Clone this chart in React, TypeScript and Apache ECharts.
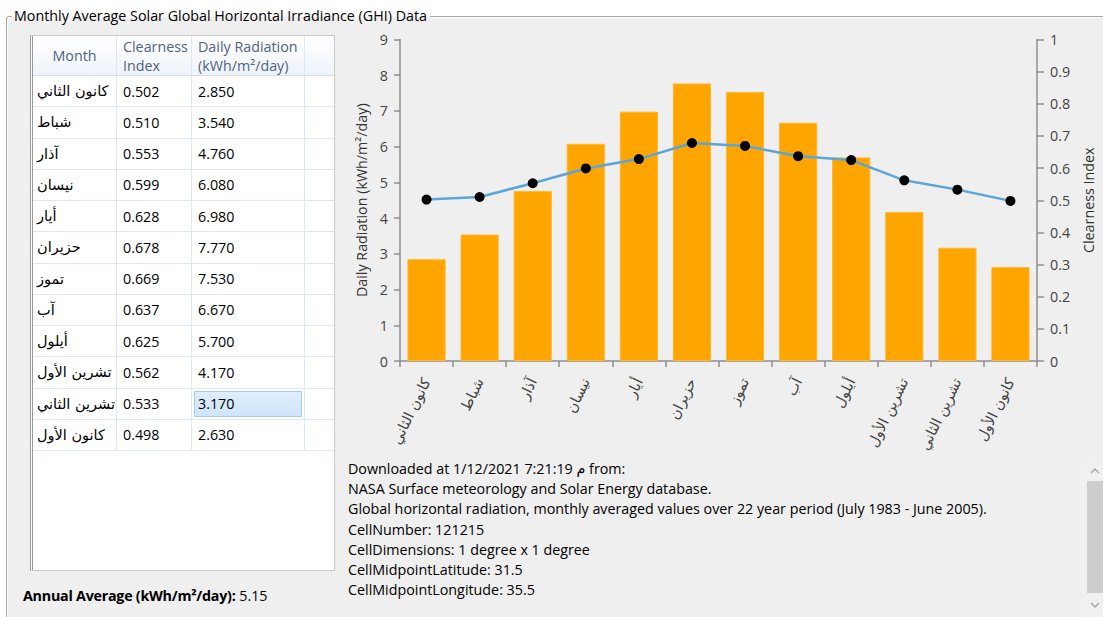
import React, { useEffect, useRef } from "react";
import * as echarts from "echarts";

const months = [
  "كانون الثاني",
  "شباط",
  "آذار",
  "نيسان",
  "أيار",
  "حزيران",
  "تموز",
  "آب",
  "أيلول",
  "تشرين الأول",
  "تشرين الثاني",
  "كانون الأول",
];
const clearness = [0.502, 0.51, 0.553, 0.599, 0.628, 0.678, 0.669, 0.637, 0.625, 0.562, 0.533, 0.498];
const radiation = [2.85, 3.54, 4.76, 6.08, 6.98, 7.77, 7.53, 6.67, 5.7, 4.17, 3.17, 2.63];
const selectedRow = 10;

const infoLines = [
  "Downloaded at 1/12/2021 7:21:19 م from:",
  "NASA Surface meteorology and Solar Energy database.",
  "Global horizontal radiation, monthly averaged values over 22 year period (July 1983 - June 2005).",
  "CellNumber: 121215",
  "CellDimensions: 1 degree x 1 degree",
  "CellMidpointLatitude: 31.5",
  "CellMidpointLongitude: 35.5",
];
const annualLabel = "Annual Average (kWh/m²/day):";
const annualValue = "5.15";
const title = "Monthly Average Solar Global Horizontal Irradiance (GHI) Data";

const FONT = "'Open Sans', 'DejaVu Sans', sans-serif";
const AXIS_COLOR = "#8f8f8f";
const TXT = 14.3;

function Chart() {
  const ref = useRef<HTMLDivElement>(null);
  useEffect(() => {
    if (!ref.current) return;
    const chart = echarts.init(ref.current, undefined, { renderer: "svg" });
    chart.setOption({
      animation: false,
      textStyle: { fontFamily: FONT },
      grid: { left: 400, right: 66, top: 39.5, bottom: 256, containLabel: false },
      xAxis: {
        type: "category",
        data: months,
        boundaryGap: true,
        axisLine: { lineStyle: { color: AXIS_COLOR, width: 1.5 } },
        axisTick: { show: true, length: 6, lineStyle: { color: AXIS_COLOR, width: 1.5 } },
        axisLabel: {
          rotate: 64,
          interval: 0,
          fontSize: 14.5,
          color: "#444",
          margin: 18,
          fontFamily: "'DejaVu Sans', sans-serif",
        },
      },
      yAxis: [
        {
          type: "value",
          position: "left",
          min: 0,
          max: 9,
          interval: 1,
          name: "Daily Radiation (kWh/m²/day)",
          nameLocation: "middle",
          nameGap: 24,
          nameRotate: 90,
          nameTextStyle: { fontSize: TXT, color: "#333", fontFamily: FONT },
          axisLine: { show: true, lineStyle: { color: AXIS_COLOR, width: 1.5 } },
          axisTick: { show: true, length: 6, lineStyle: { color: AXIS_COLOR, width: 1.5 } },
          axisLabel: { fontSize: TXT, color: "#444", margin: 12 },
          splitLine: { show: false },
        },
        {
          type: "value",
          position: "right",
          min: 0,
          max: 1,
          interval: 0.1,
          name: "Clearness Index",
          nameLocation: "middle",
          nameGap: 41,
          nameRotate: 90,
          nameTextStyle: { fontSize: TXT, color: "#333", fontFamily: FONT },
          axisLine: { show: true, lineStyle: { color: AXIS_COLOR, width: 1.5 } },
          axisTick: { show: true, length: 7, lineStyle: { color: AXIS_COLOR, width: 1.5 } },
          axisLabel: {
            fontSize: TXT,
            color: "#444",
            margin: 13,
            formatter: (v: number) => String(Math.round(v * 10) / 10),
          },
          splitLine: { show: false },
        },
      ],
      series: [
        {
          type: "bar",
          data: radiation,
          barCategoryGap: "28%",
          itemStyle: { color: "#ffa500", borderColor: "#ffb833", borderWidth: 1 },
        },
        {
          type: "line",
          yAxisIndex: 1,
          data: clearness,
          symbol: "circle",
          symbolSize: 10,
          lineStyle: { color: "#5aa5d9", width: 2.5 },
          itemStyle: { color: "#000" },
          z: 3,
        },
      ],
    });
    return () => chart.dispose();
  }, []);
  return <div ref={ref} style={{ position: "absolute", left: 0, top: 0, width: 1103, height: 617 }} />;
}

const ROW_H = 31.25;
const COLS = [84, 75, 113, 29];

function Grid() {
  const cellBorder = "1px solid #dfe7f2";
  return (
    <div
      style={{
        position: "absolute",
        left: 30,
        top: 35,
        width: 305,
        height: 536,
        background: "#fff",
        border: "1px solid #c9c9c9",
        borderLeft: "3px double #9a9a9a",
        boxSizing: "border-box",
        fontFamily: FONT,
        fontSize: TXT,
        color: "#000",
        overflow: "hidden",
      }}
    >
      <div
        style={{
          display: "flex",
          height: 40,
          background: "linear-gradient(#ffffff, #eef3fa)",
          borderBottom: "1px solid #d5deea",
          boxSizing: "border-box",
          color: "#52637f",
          whiteSpace: "nowrap",
        }}
      >
        <div
          style={{
            width: COLS[0],
            borderRight: cellBorder,
            display: "flex",
            alignItems: "center",
            justifyContent: "center",
            boxSizing: "border-box",
          }}
        >
          Month
        </div>
        <div style={{ width: COLS[1], borderRight: cellBorder, paddingLeft: 6, lineHeight: "19px", paddingTop: 1, boxSizing: "border-box" }}>
          Clearness
          <br />
          Index
        </div>
        <div style={{ width: COLS[2], borderRight: cellBorder, paddingLeft: 6, lineHeight: "19px", paddingTop: 1, boxSizing: "border-box" }}>
          Daily Radiation
          <br />
          (kWh/m²/day)
        </div>
        <div style={{ width: COLS[3], boxSizing: "border-box" }} />
      </div>
      {months.map((m, i) => (
        <div key={i} style={{ display: "flex", height: ROW_H, borderBottom: cellBorder, boxSizing: "border-box" }}>
          <div
            style={{
              width: COLS[0],
              borderRight: cellBorder,
              display: "flex",
              alignItems: "center",
              paddingLeft: 4,
              boxSizing: "border-box",
              fontFamily: "'DejaVu Sans', sans-serif",
              fontSize: 14.5,
              whiteSpace: "nowrap",
            }}
          >
            <span dir="rtl">{m}</span>
          </div>
          <div style={{ width: COLS[1], borderRight: cellBorder, display: "flex", alignItems: "center", paddingLeft: 6, boxSizing: "border-box" }}>
            {clearness[i].toFixed(3)}
          </div>
          <div style={{ width: COLS[2], borderRight: cellBorder, display: "flex", alignItems: "center", boxSizing: "border-box", padding: i === selectedRow ? "2px 2px 2px 2px" : "0 0 0 6px" }}>
            {i === selectedRow ? (
              <div
                style={{
                  width: "100%",
                  height: "100%",
                  background: "linear-gradient(#e0eefc, #cfe4fb)",
                  border: "1px solid #a9cbee",
                  boxSizing: "border-box",
                  display: "flex",
                  alignItems: "center",
                  paddingLeft: 3,
                }}
              >
                {radiation[i].toFixed(3)}
              </div>
            ) : (
              radiation[i].toFixed(3)
            )}
          </div>
          <div style={{ width: COLS[3], boxSizing: "border-box" }} />
        </div>
      ))}
    </div>
  );
}

function Chevron({ up }: { up: boolean }) {
  return (
    <svg width="16" height="12" style={{ display: "block" }}>
      <polyline
        points={up ? "4,8 8,4 12,8" : "4,4 8,8 12,4"}
        fill="none"
        stroke="#a3a3a3"
        strokeWidth="1.3"
      />
    </svg>
  );
}

export default function App() {
  return (
    <div
      style={{
        position: "fixed",
        left: 0,
        top: 0,
        width: 1103,
        height: 617,
        background: "#fff",
        overflow: "hidden",
        fontFamily: FONT,
      }}
    >
      <div
        style={{
          position: "absolute",
          left: 6,
          top: 16,
          width: 1130,
          height: 640,
          border: "1px solid #a6a6a6",
          borderRadius: 3,
          boxShadow: "inset 1px 1px 0 #ffffff",
          background: "#efefef",
        }}
      />
      <div
        style={{
          position: "absolute",
          left: 12,
          top: 5,
          padding: "0 3px 0 2px",
          fontSize: TXT,
          lineHeight: "21px",
          color: "#000",
          background: "linear-gradient(#ffffff 0px, #ffffff 11px, #efefef 12px)",
          whiteSpace: "nowrap",
        }}
      >
        {title}
      </div>
      <Chart />
      <Grid />
      <div
        style={{
          position: "absolute",
          left: 23,
          top: 586,
          fontSize: TXT,
          lineHeight: "20px",
          color: "#000",
          whiteSpace: "nowrap",
        }}
      >
        <b style={{ fontWeight: 700, letterSpacing: -0.25 }}>{annualLabel}</b> {annualValue}
      </div>
      <div
        style={{
          position: "absolute",
          left: 348,
          top: 459,
          fontSize: TXT,
          lineHeight: "20.2px",
          color: "#000",
          whiteSpace: "nowrap",
        }}
      >
        {infoLines.map((l, i) => (
          <div key={i}>{l}</div>
        ))}
      </div>
      <div style={{ position: "absolute", left: 1087, top: 460, width: 16, height: 157, background: "#f0f0f0" }}>
        <div style={{ position: "absolute", left: 0, top: 5 }}>
          <Chevron up={true} />
        </div>
        <div style={{ position: "absolute", left: 0, top: 21, width: 16, height: 112, background: "#cdcdcd" }} />
        <div style={{ position: "absolute", left: 0, top: 139 }}>
          <Chevron up={false} />
        </div>
      </div>
    </div>
  );
}
